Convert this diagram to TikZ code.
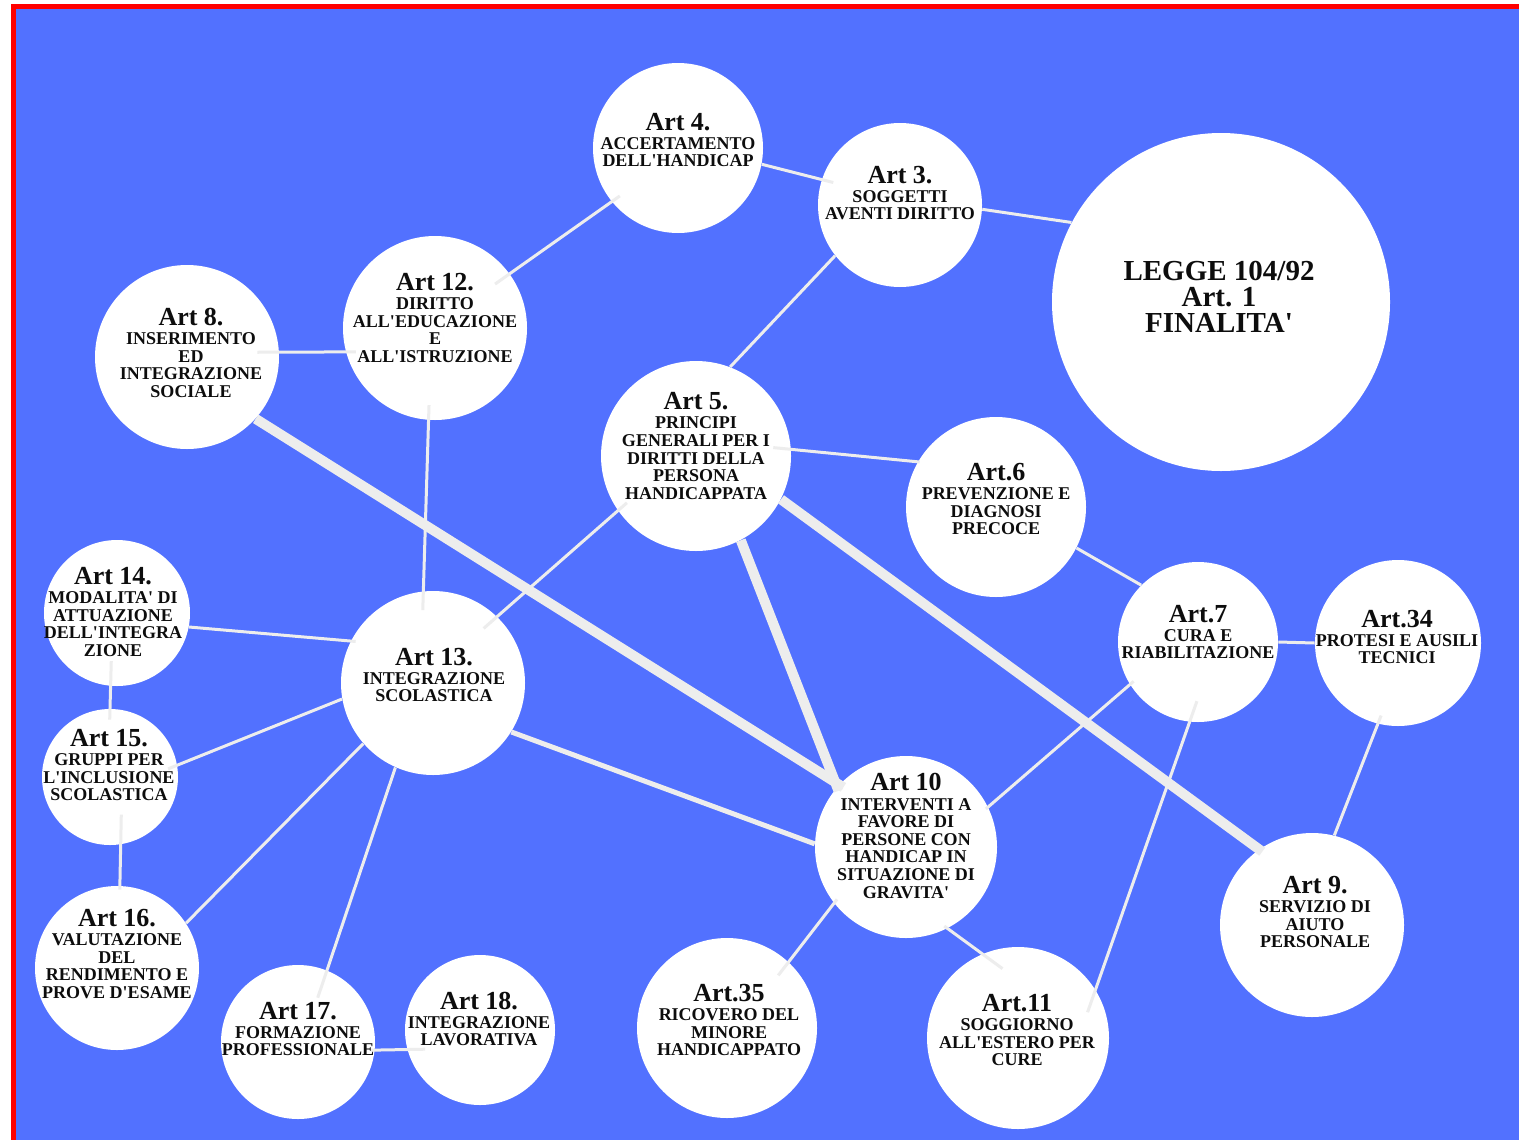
\documentclass[tikz,border=0pt]{standalone}
\usepackage{fontspec}
\setmainfont{Liberation Serif}[Ligatures=TeXOff]
\usepackage{tikz}
\definecolor{sea}{HTML}{5271FF}
\colorlet{linkgray}{black!7}
\newcommand\bodyfont{\fontsize{9}{8.8}\selectfont\bfseries}
\newcommand\arttitle[1]{{\fontsize{13}{13}\selectfont #1}\\[0.8pt]}
\lineskiplimit=-20pt

\begin{document}
\begin{tikzpicture}[x=0.5pt,y=-0.5pt,
  bubble/.style={circle,fill=white,inner sep=0pt,minimum size=#1},
  link/.style={draw=linkgray,line width=1.5pt},
  wide link/.style={draw=linkgray,line width=2.5pt},
  heavy link/.style={draw=linkgray,line width=5pt},
  art/.style={align=center,inner sep=0pt,text=black!95,font=\bodyfont}]
\useasboundingbox (0,0) rectangle (1519,1140);
\fill [white] (0,0) rectangle (1519,1140);
\fill [red] (11,4) rectangle (1519,1140);
\fill [sea] (16,9) rectangle (1519,1140);
% bubbles: name/x/y/radius
\foreach \n/\x/\y/\r in {a4/678/148/85, a3/900/205/82, legge/1221/302/169,
  a12/435/328/92, a8/187/357/92, a5/696/456/95, a6/996/507/90,
  a14/117/613/73, a13/433/683/92, a7/1198/642/80, a34/1398/643/83,
  a15/110/777/68, a10/906/847/91, a9/1312/925/92, a16/117/968/82,
  a17/298/1042/77, a18/480/1030/75, a35/727/1028/90, a11/1018/1038/91}
  \node [bubble=\r pt] (\n) at (\x,\y) {};
% thin links
\draw [link,shorten >=-6pt] (a4.-11) -- (a3.162);
\draw [link] (a3.-3) -- (legge.152);
\draw [link,shorten <=-9pt,shorten >=-5pt] (a12.36) -- (a4.-141);
\draw [link,shorten <=-11pt,shorten >=-5pt] (a8.3) -- (a12.-165);
\draw [link] (a3.-142) -- (a5.69);
\draw [link,shorten <=-7.5pt,shorten >=-9.5pt] (a12.-94) -- (a13.96);
\draw [link,shorten <=-9pt,shorten >=-1pt] (a5.4) -- (a6.150);
\draw [link,shorten <=-6pt,shorten >=-9pt] (a5.-145) -- (a13.46);
\draw [link] (a6.-27) -- (a7.135);
\draw [link] (a7.0) -- (a34.180);
\draw [link,shorten >=-2.5pt] (a14.-11) -- (a13.153);
\draw [link,shorten <=-12.5pt,shorten >=-5.5pt] (a14.-95) -- (a15.90);
\draw [link,shorten <=-5pt] (a15.10) -- (a13.-170);
\draw [link,shorten <=-15pt,shorten >=-2pt] (a15.-81) -- (a16.88);
\draw [link] (a13.-139) -- (a16.33);
\draw [link,shorten >=-14.5pt] (a13.-114) -- (a17.68);
\draw [link,shorten <=-2pt,shorten >=-9pt] (a17.-6) -- (a18.-165);
\draw [link,shorten <=-2.5pt,shorten >=-1.5pt] (a7.-148) -- (a10.26);
\draw [link,shorten <=-11pt,shorten >=-12pt] (a7.-96) -- (a11.32);
\draw [link,shorten <=-4.5pt] (a34.-104) -- (a9.76);
\draw [link,shorten <=-2.5pt,shorten >=-8.5pt] (a10.-142) -- (a35.47);
\draw [link,shorten <=-2pt,shorten >=-12.5pt] (a10.-63) -- (a11.113);
% heavier links
\draw [wide link] (a13.-32) -- (a10.178);
\draw [heavy link,shorten >=-2.5pt] (a8.-42) -- (a10.137);
\draw [heavy link,shorten >=-2pt] (a5.-62) -- (a10.139);
\draw [heavy link,shorten >=-2pt] (a5.-27) -- (a9.125);
% texts
\node [art,font=\fontsize{14.5}{13}\selectfont\bfseries] (tl) at (1219,297)
  {LEGGE 104/92\\Art. 1\\FINALITA'};
\node [art] (t4) at (678,140) {\arttitle{Art 4.}ACCERTAMENTO\\DELL'HANDICAP};
\node [art] (t3) at (900,193) {\arttitle{Art 3.}SOGGETTI\\AVENTI DIRITTO};
\node [art] (t12) at (435,318) {\arttitle{Art 12.}DIRITTO\\ALL'EDUCAZIONE\\E\\ALL'ISTRUZIONE};
\node [art] (t8) at (191,353) {\arttitle{Art 8.}INSERIMENTO\\ED\\INTEGRAZIONE\\SOCIALE};
\node [art] (t5) at (696,446) {\arttitle{Art 5.}PRINCIPI\\GENERALI PER I\\DIRITTI DELLA\\PERSONA\\HANDICAPPATA};
\node [art] (t6) at (996,499) {\arttitle{Art.6}PREVENZIONE E\\DIAGNOSI\\PRECOCE};
\node [art] (t14) at (113,612) {\arttitle{Art 14.}MODALITA' DI\\ATTUAZIONE\\DELL'INTEGRA\\ZIONE};
\node [art] (t13) at (434,675) {\arttitle{Art 13.}INTEGRAZIONE\\SCOLASTICA};
\node [art] (t7) at (1198,632) {\arttitle{Art.7}CURA E\\RIABILITAZIONE};
\node [art] (t34) at (1397,637) {\arttitle{Art.34}PROTESI E AUSILI\\TECNICI};
\node [art] (t15) at (109,765) {\arttitle{Art 15.}GRUPPI PER\\L'INCLUSIONE\\SCOLASTICA};
\node [art] (t10) at (906,836) {\arttitle{Art 10}INTERVENTI A\\FAVORE DI\\PERSONE CON\\HANDICAP IN\\SITUAZIONE DI\\GRAVITA'};
\node [art] (t9) at (1315,912) {\arttitle{Art 9.}SERVIZIO DI\\AIUTO\\PERSONALE};
\node [art] (t16) at (117,954) {\arttitle{Art 16.}VALUTAZIONE\\DEL\\RENDIMENTO E\\PROVE D'ESAME};
\node [art] (t17) at (298,1029) {\arttitle{Art 17.}FORMAZIONE\\PROFESSIONALE};
\node [art] (t18) at (479,1019) {\arttitle{Art 18.}INTEGRAZIONE\\LAVORATIVA};
\node [art] (t35) at (729,1020) {\arttitle{Art.35}RICOVERO DEL\\MINORE\\HANDICAPPATO};
\node [art] (t11) at (1017,1030) {\arttitle{Art.11}SOGGIORNO\\ALL'ESTERO PER\\CURE};
\end{tikzpicture}
\end{document}
